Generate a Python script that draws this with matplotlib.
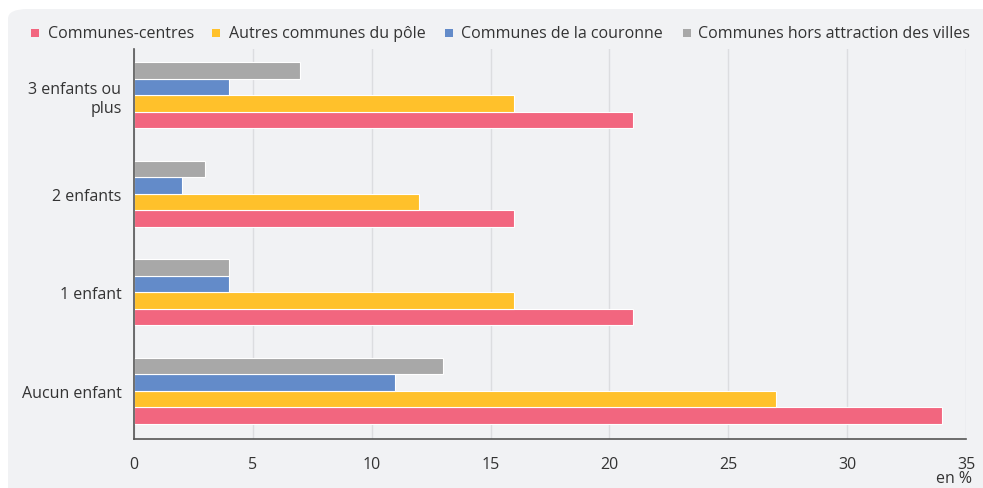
import matplotlib.pyplot as plt
from matplotlib.patches import FancyBboxPatch, Rectangle
import numpy as np

plt.rcParams["font.family"] = ["Open Sans", "DejaVu Sans"]

categories = ["Aucun enfant", "1 enfant", "2 enfants", "3 enfants ou\nplus"]
series = ["Communes-centres", "Autres communes du pôle",
          "Communes de la couronne", "Communes hors attraction des villes"]
centres = [34, 21, 16, 21]
autres_pole = [27, 16, 12, 16]
couronne = [11, 4, 2, 4]
hors_attraction = [13, 4, 3, 7]
values = [centres, autres_pole, couronne, hors_attraction]
colors = ["#f2667f", "#ffc12b", "#638bc9", "#a8a8a8"]

fig = plt.figure(figsize=(9.83, 4.89), dpi=100)
fig.patch.set_facecolor("white")

# rounded grey panel behind everything
panel = FancyBboxPatch((8 / 983, -0.1), 1.1, (489 - 10) / 489 + 0.1,
                       boxstyle="round,pad=0,rounding_size=0.02",
                       transform=fig.transFigure, facecolor="#f1f2f4",
                       edgecolor="none", zorder=-10)
fig.patches.append(panel)

ax = fig.add_axes([134 / 983, 1 - 440 / 489, (966 - 134) / 983, (440 - 50) / 489])
ax.set_facecolor("#f1f2f4")

y = np.arange(len(categories))
h = 0.168
offsets = [-1.5 * h, -0.5 * h, 0.5 * h, 1.5 * h]
for vals, col, off in zip(values, colors, offsets):
    ax.barh(y + off, vals, height=h, color=col, edgecolor="white",
            linewidth=0.8, zorder=2)

ax.set_xlim(0, 35)
ax.set_ylim(-0.49, 3.47)
ax.set_xticks(np.arange(0, 36, 5))
ax.set_yticks(y)
ax.set_yticklabels(categories)
ax.tick_params(axis="both", length=0, labelsize=11.5, colors="#333333")
ax.tick_params(axis="x", pad=12)
ax.tick_params(axis="y", pad=9)
ax.grid(axis="x", color="#dcdde0", linewidth=1, zorder=0)
for s in ["top", "right"]:
    ax.spines[s].set_visible(False)
for s in ["left", "bottom"]:
    ax.spines[s].set_color("#555555")
    ax.spines[s].set_linewidth(1.2)
    ax.spines[s].set_zorder(5)

fig.text(972 / 983, 1 - 479 / 489, "en %", ha="right", va="center",
         fontsize=11.5, color="#333333")

# legend on top
sq_x = [31, 212, 445, 683]
txt_x = [48, 229, 461, 698]
ly = 1 - 34 / 489
for name, col, sx, tx in zip(series, colors, sq_x, txt_x):
    fig.patches.append(Rectangle((sx / 983, ly - 4 / 489), 8 / 983, 8 / 489,
                                 transform=fig.transFigure, facecolor=col,
                                 edgecolor="none"))
    fig.text(tx / 983, ly, name, ha="left", va="center", fontsize=11.5,
             color="#333333")

fig.savefig("out.png", dpi=100)
